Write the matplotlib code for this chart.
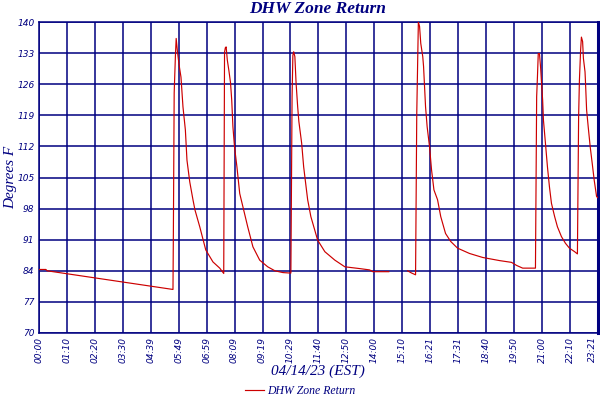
import matplotlib
matplotlib.use("Agg")
import matplotlib.pyplot as plt
import numpy as np

# minutes after midnight, 04/14/23 (EST)
minutes = [
    0, 18, 21, 336, 337, 339, 342, 344, 347, 351, 356, 361, 367, 371, 378, 386,
    391, 403, 418, 436, 453, 463,
    465, 467, 469, 472, 476, 480, 483, 486, 490, 496, 503, 511, 523, 536, 553,
    573, 591, 611, 628, 631,
    634, 636, 638, 641, 644, 648, 651, 658, 663, 670, 673, 681, 698, 716, 741,
    766, 803, 828, 836, 876,
    877,
    923, 933, 943,
    946, 950, 953, 956, 961, 963, 968, 972, 978, 983, 989, 998, 1006, 1018,
    1031, 1048, 1078, 1111, 1153, 1183, 1196, 1211, 1243,
    1246, 1248, 1250, 1253, 1256, 1258, 1261, 1263, 1268, 1273, 1278, 1283,
    1291, 1298, 1308, 1318, 1328, 1341, 1348,
    1351, 1353, 1356, 1358, 1361, 1363, 1367, 1368, 1371, 1375, 1380, 1385,
    1390, 1396, 1400,
]
temps = [
    84.3, 84.3, 84.0, 79.8, 92.7, 124.0, 132.2, 136.3, 133.5, 130.5, 127.6,
    120.9, 115.7, 108.9, 104.0, 100.0, 97.7, 93.9, 88.7, 86.0, 84.6, 83.4,
    133.2, 134.2, 134.4, 131.4, 129.0, 126.3, 122.4, 116.4, 111.9, 107.4, 101.4,
    98.4, 93.9, 89.4, 86.4, 84.9, 84.0, 83.6, 83.5, 83.5,
    123.2, 132.5, 133.3, 132.2, 126.3, 120.9, 117.6, 112.7, 107.4, 102.2, 100.0,
    96.2, 90.9, 88.3, 86.4, 84.9, 84.5, 84.2, 83.8, 83.8,
    np.nan,
    84.0, 83.5, 83.1,
    119.4, 140.0, 139.0, 135.2, 132.2, 130.0, 120.9, 116.4, 111.9, 106.7,
    102.2, 100.0, 96.2, 92.4, 90.6, 89.1, 87.9, 87.0, 86.3, 85.9, 85.2, 84.6,
    84.6,
    123.2, 127.7, 132.9, 132.9, 129.6, 126.6, 122.4, 117.9, 112.7, 107.4,
    102.9, 99.2, 96.2, 93.9, 91.7, 90.2, 89.1, 88.3, 87.8,
    118.7, 126.9, 133.7, 136.6, 135.6, 131.8, 128.8, 126.9, 120.2, 116.4,
    111.9, 108.2, 104.4, 100.7, 100.4,
]

x_ticks = list(range(0, 1401, 70))
x_labels = ["00:00", "01:10", "02:20", "03:30", "04:39", "05:49", "06:59",
            "08:09", "09:19", "10:29", "11:40", "12:50", "14:00", "15:10",
            "16:21", "17:31", "18:40", "19:50", "21:00", "22:10", "23:21"]
y_ticks = list(range(70, 141, 7))

navy = "#000080"
red = "#cc0000"
serif = "Liberation Serif"
tick_font = dict(fontsize=6.5, style="italic", color=navy)

fig = plt.figure(figsize=(6, 4), dpi=100)
ax = fig.add_axes([0.0645, 0.1675, 0.9325, 0.7775])

ax.plot(minutes, temps, color=red, lw=0.85, label="DHW Zone Return", zorder=3)

ax.set_xlim(0, 1400)
ax.set_ylim(70, 140)
ax.set_xticks(x_ticks)
# last label sits on the right edge; draw it separately, nudged inside
ax.set_xticklabels(x_labels[:-1] + [""], rotation=90, va="top", **tick_font)
ax.annotate(x_labels[-1], xy=(x_ticks[-1], 70), xycoords="data",
            xytext=(-4, -2.5), textcoords="offset points", rotation=90,
            ha="center", va="top", annotation_clip=False, **tick_font)
ax.set_yticks(y_ticks)
ax.set_yticklabels([str(v) for v in y_ticks], **tick_font)
ax.tick_params(length=0, pad=3)
ax.grid(True, color=navy, lw=1.1)
ax.set_axisbelow(True)
for side in ["left", "bottom", "top"]:
    ax.spines[side].set_color(navy)
    ax.spines[side].set_linewidth(1.1)
ax.spines["right"].set_color(navy)
ax.spines["right"].set_linewidth(2.2)

fig.text(0.53, 0.978, "DHW Zone Return", ha="center", va="center",
         fontsize=12.5, family=serif, style="italic", weight="bold", color=navy)
fig.text(0.53, 0.072, "04/14/23 (EST)", ha="center", va="center",
         fontsize=11, family=serif, style="italic", color=navy)
fig.text(0.017, 0.557, "Degrees F", ha="center", va="center", rotation=90,
         fontsize=11, family=serif, style="italic", color=navy)

leg = fig.legend(loc="center", bbox_to_anchor=(0.5, 0.022), frameon=False,
                 prop={"family": serif, "style": "italic", "size": 8.5},
                 handlelength=1.6, handletextpad=0.3)
for t in leg.get_texts():
    t.set_color(navy)

fig.savefig("out.png", dpi=100)
